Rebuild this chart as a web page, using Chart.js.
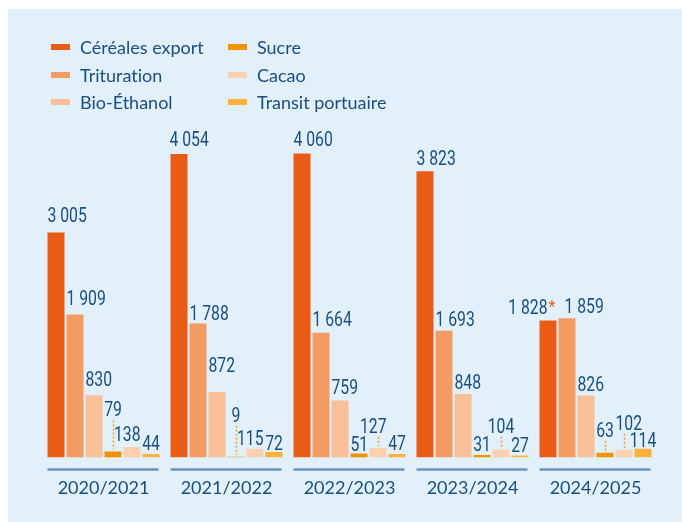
<!DOCTYPE html>
<html>
<head>
<meta charset="utf-8">
<script src="https://cdn.jsdelivr.net/npm/chart.js@4.4.1/dist/chart.umd.min.js"></script>
<style>
html, body { margin: 0; padding: 0; background: #fff; }
#panel { position: absolute; left: 8px; top: 9px; width: 674px; height: 513px; background: #e1f0fb; }
#chart { position: absolute; left: 0; top: 0; }
#legend { position: absolute; left: 0; top: 0; font-family: Lato, sans-serif; font-size: 18px; color: #1a4e80; font-variant-ligatures: none; }
.item { position: absolute; white-space: nowrap; height: 20px; line-height: 20px; }
.item .sw { position: absolute; left: 0; top: 7px; width: 19px; height: 6px; }
.item .tx { position: absolute; left: 29px; top: 0; }
</style>
</head>
<body>
<div id="panel"></div>
<canvas id="chart" width="682" height="522"></canvas>
<div id="legend"></div>
<script>
// campaigns (x axis)
const years = ['2020/2021', '2021/2022', '2022/2023', '2023/2024', '2024/2025'];

// series, in thousands of tonnes
const seriesNames = ['Céréales export', 'Trituration', 'Bio-Éthanol', 'Sucre', 'Cacao', 'Transit portuaire'];
const cereales = [3005, 4054, 4060, 3823, 1828];
const trituration = [1909, 1788, 1664, 1693, 1859];
const bioEthanol = [830, 872, 759, 848, 826];
const sucre = [79, 9, 51, 31, 63];
const cacao = [138, 115, 127, 104, 102];
const transit = [44, 72, 47, 27, 114];
const footnote = { 0: { 4: '*' } }; // series index -> year index -> mark

const colors = ['#e85c16', '#f49b64', '#f8bf98', '#f29200', '#fccfb0', '#fbb13b'];
const textColor = '#1a4e80';

// label placement: align (l/c/r, optional px shift) and gap above bar top, per year
const labelAlign = [
	['l', 'l', 'l', 'c', 'r', 'c'],
	['l-1', 'l', 'l', 'c', 'r', 'c'],
	['l', 'l', 'l', 'l', 'r', 'c'],
	['l', 'l', 'l', 'c', 'c', 'c'],
	['r', 'l+6', 'l', 'c', 'l', 'c']
];
const labelGap = [
	[10, 9, 9, 35, 6, 4],
	[8, 4, 20, 35, 4, 2],
	[7, 7, 7, 3, 15, 4],
	[6, 5, 5, 4, 17, 3],
	[7, 5, 5, 16, 20, 2]
];
// dotted leader lines [year, series]
const leaders = [[0, 3], [1, 3], [2, 4], [3, 4], [4, 3], [4, 4]];

function fmt(v) {
	return String(v).replace(/\B(?=(\d{3})+(?!\d))/g, ' ');
}

const SQ = 0.75; // horizontal squeeze for the condensed value font

const groupAxis = {
	id: 'groupAxis',
	afterDatasetsDraw(chart) {
		const ctx = chart.ctx;
		const first = chart.getDatasetMeta(0).data;
		const last = chart.getDatasetMeta(chart.data.datasets.length - 1).data;
		const y = chart.chartArea.bottom + 12;
		ctx.save();
		ctx.strokeStyle = '#6a94ba';
		ctx.lineWidth = 2.5;
		for (let j = 0; j < first.length; j++) {
			ctx.beginPath();
			ctx.moveTo(first[j].x - first[j].width / 2, y);
			ctx.lineTo(last[j].x + last[j].width / 2 - 1, y);
			ctx.stroke();
		}
		ctx.restore();
	}
};

const barLabels = {
	id: 'barLabels',
	afterDatasetsDraw(chart) {
		const ctx = chart.ctx;
		ctx.save();
		ctx.textBaseline = 'alphabetic';
		ctx.textAlign = 'left';
		chart.data.datasets.forEach((ds, i) => {
			chart.getDatasetMeta(i).data.forEach((bar, j) => {
				ctx.font = '21px Roboto';
				const text = fmt(ds.data[j]);
				const mark = footnote[i] && footnote[i][j];
				const left = bar.x - bar.width / 2;
				const right = bar.x + bar.width / 2;
				const tw = ctx.measureText(text).width * SQ;
				const mw = mark ? 9 : 0;
				const w = tw + mw;
				const a = labelAlign[j][i];
				const shift = a.length > 1 ? parseFloat(a.slice(1)) : 0;
				let x0 = left;
				if (a[0] === 'c') x0 = bar.x - w / 2;
				if (a[0] === 'r') x0 = right - w;
				x0 += shift;
				const base = bar.y - labelGap[j][i];
				ctx.fillStyle = textColor;
				ctx.save();
				ctx.translate(x0, base);
				ctx.scale(SQ, 1);
				ctx.fillText(text, 0, 0);
				ctx.restore();
				if (mark) {
					ctx.font = '16px Roboto';
					ctx.fillStyle = colors[0];
					ctx.fillText(mark, x0 + tw + 1, base - 2);
				}
			});
		});
		ctx.strokeStyle = '#f0a030';
		ctx.lineWidth = 1.5;
		ctx.setLineDash([2, 2]);
		for (const [j, i] of leaders) {
			const bar = chart.getDatasetMeta(i).data[j];
			const base = bar.y - labelGap[j][i];
			ctx.beginPath();
			ctx.moveTo(Math.round(bar.x) + 0.5, base + 4);
			ctx.lineTo(Math.round(bar.x) + 0.5, bar.y - 2);
			ctx.stroke();
		}
		ctx.restore();
	}
};

const allSeries = [cereales, trituration, bioEthanol, sucre, cacao, transit];

const chart = new Chart(document.getElementById('chart'), {
	type: 'bar',
	data: {
		labels: years,
		datasets: allSeries.map((d, i) => ({
			label: seriesNames[i],
			data: d,
			backgroundColor: colors[i],
			borderWidth: 0,
			barPercentage: 17 / 19,
			categoryPercentage: 114 / 123
		}))
	},
	options: {
		responsive: false,
		devicePixelRatio: 1,
		animation: false,
		layout: { padding: { left: 42, right: 25, top: 128, bottom: 3 } },
		plugins: { legend: { display: false }, tooltip: { enabled: false } },
		scales: {
			x: {
				grid: { display: false, drawTicks: false },
				border: { display: false },
				ticks: { color: textColor, font: { family: 'Lato', size: 18 }, padding: 20 }
			},
			y: { display: false, min: 0, max: 4400 }
		}
	},
	plugins: [groupAxis, barLabels]
});

// legend, two columns of three
const legend = document.getElementById('legend');
seriesNames.forEach((name, i) => {
	const col = Math.floor(i / 3), row = i % 3;
	const item = document.createElement('div');
	item.className = 'item';
	item.style.left = (51 + col * 177) + 'px';
	item.style.top = (37 + row * 27.7) + 'px';
	item.innerHTML = `<span class="sw" style="background:${colors[i]}"></span><span class="tx">${name}</span>`;
	legend.appendChild(item);
});
</script>
</body>
</html>
